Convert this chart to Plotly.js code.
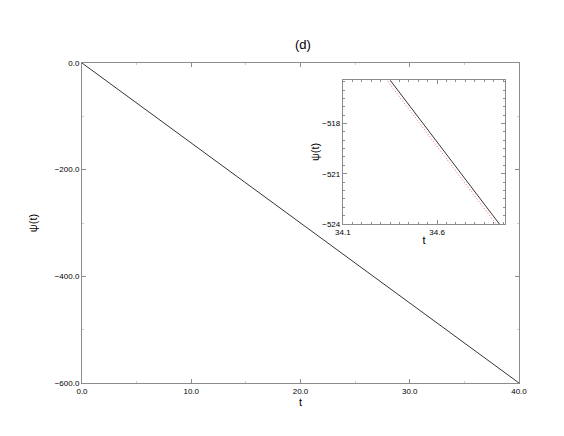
<!DOCTYPE html>
<html>
<head>
<meta charset="utf-8">
<script src="https://cdn.plot.ly/plotly-3.0.1.min.js"></script>
<style>
  html, body { margin: 0; padding: 0; background: #fff; }
  #chart { width: 564px; height: 436px; }
</style>
</head>
<body>
<div id="chart"></div>
<script>
// main panel: psi(t) over the full run
const mainT = [0, 40];
const mainPsi = [0, -600];

// inset: zoom near t ~ 34.5, two nearly overlapping curves
const insetT = [34.3, 35.0];
const insetPsiBlack = [-514.66, -525.04];
const insetPsiRed = [-514.92, -525.3];

const FONT = { family: 'Liberation Sans, Arial, sans-serif', color: '#000' };
const AXIS_COLOR = '#8c8c8c';
const TICKFONT = { size: 8, color: '#000' };

const frame = {
    showline: true, linecolor: AXIS_COLOR, linewidth: 1,
    mirror: 'ticks', ticks: 'inside', tickcolor: AXIS_COLOR,
    showgrid: false, zeroline: false
};

const traces = [
    {
        x: mainT, y: mainPsi, mode: 'lines',
        line: { color: '#000', width: 0.8 },
        xaxis: 'x', yaxis: 'y', hoverinfo: 'skip', showlegend: false
    },
    {
        x: insetT, y: insetPsiRed, mode: 'lines',
        line: { color: '#ff3030', width: 0.8, dash: '1px,2px' },
        xaxis: 'x2', yaxis: 'y2', hoverinfo: 'skip', showlegend: false
    },
    {
        x: insetT, y: insetPsiBlack, mode: 'lines',
        line: { color: '#000', width: 0.8 },
        xaxis: 'x2', yaxis: 'y2', hoverinfo: 'skip', showlegend: false
    }
];

const layout = {
    width: 564, height: 436,
    font: FONT,
    margin: { l: 82, r: 45, t: 63, b: 53 },
    title: {
        text: '(d)', font: { size: 13, color: '#000' },
        x: 0.537, xanchor: 'center', y: 0.897, yanchor: 'middle'
    },
    xaxis: Object.assign({}, frame, {
        range: [0, 40], tick0: 0, dtick: 10, tickformat: '.1f', ticklen: 4,
        tickfont: TICKFONT,
        minor: { dtick: 5, ticks: 'inside', ticklen: 2, tickcolor: '#cccccc' },
        title: { text: 't', font: { size: 11, color: '#000' }, standoff: 2 }
    }),
    yaxis: Object.assign({}, frame, {
        range: [-600, 0], tick0: 0, dtick: 200, tickformat: '.1f', ticklen: 4,
        tickfont: TICKFONT,
        minor: { dtick: 100, ticks: 'inside', ticklen: 2, tickcolor: '#cccccc' },
        title: { text: 'ψ(t)', font: { size: 11, color: '#000' }, standoff: 14 }
    }),
    xaxis2: Object.assign({}, frame, {
        domain: [0.597, 0.968], anchor: 'y2',
        range: [34.1, 34.96], tick0: 34.1, dtick: 0.5, tickformat: '.1f', ticklen: 4,
        tickfont: TICKFONT,
        minor: { dtick: 0.05, ticks: 'inside', ticklen: 2, tickcolor: AXIS_COLOR },
        title: { text: 't', font: { size: 11, color: '#000' }, standoff: 0 }
    }),
    yaxis2: Object.assign({}, frame, {
        domain: [0.497, 0.947], anchor: 'x2',
        range: [-524, -515.4], tick0: -524, dtick: 3, tickformat: 'd', ticklen: 4,
        tickfont: TICKFONT,
        minor: { dtick: 0.5, ticks: 'inside', ticklen: 2, tickcolor: AXIS_COLOR },
        title: { text: 'ψ(t)', font: { size: 11, color: '#000' }, standoff: 0 }
    }),
    plot_bgcolor: '#fff',
    paper_bgcolor: '#fff'
};

Plotly.newPlot('chart', traces, layout, { displayModeBar: false, staticPlot: true });
</script>
</body>
</html>
